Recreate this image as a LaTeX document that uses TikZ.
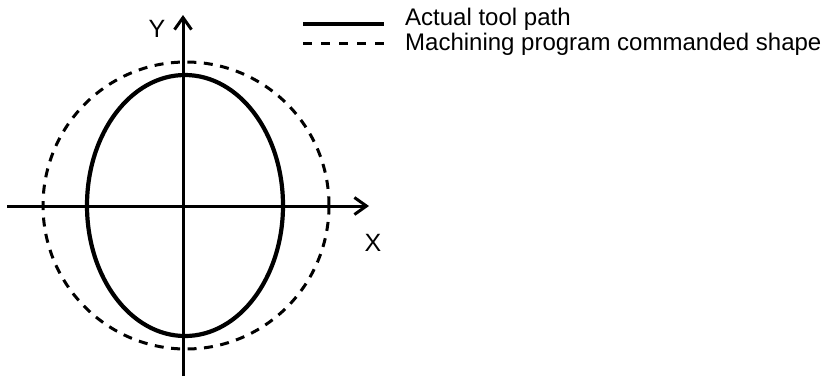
\documentclass[tikz,border=0pt]{standalone}
\usepackage{fontspec}
\setmainfont{Liberation Sans}
\usetikzlibrary{arrows.meta}
\begin{document}
\begin{tikzpicture}[x=1pt,y=-1pt,
  axisline/.style={line width=3pt,-{Straight Barb[length=12pt,width=17pt]}},
  toolpath/.style={line width=4.2pt},
  cmdshape/.style={line width=3pt,dash pattern=on 9pt off 7.5pt},
  axislabel/.style={font=\fontsize{25}{29}\selectfont,inner sep=0pt},
  legendtext/.style={font=\fontsize{24}{28}\selectfont,inner sep=0pt,anchor=base west}]
\useasboundingbox (0,0) rectangle (821,376);
% axes
\coordinate (xs) at (7,206);
\coordinate (xe) at (369,206);
\coordinate (ys) at (183,376);
\coordinate (ye) at (183,15);
\draw[axisline] (xs) -- (xe);
\draw[axisline] (ys) -- (ye);
% shapes
\coordinate (cc) at (186,205.5);
\coordinate (ec) at (185,205.5);
\draw[cmdshape] (cc) ellipse [x radius=143, y radius=143.5];
\draw[toolpath] (ec) ellipse [x radius=98, y radius=130.5];
% axis labels
\node[axislabel] (ylab) at (157,29) {Y};
\node[axislabel] (xlab) at (373,243) {X};
% legend
\coordinate (l1s) at (303,24);
\coordinate (l1e) at (384,24);
\coordinate (l2s) at (303,43);
\coordinate (l2e) at (384,43);
\draw[line width=4.2pt] (l1s) -- (l1e);
\draw[line width=3pt,dash pattern=on 9pt off 9pt] (l2s) -- (l2e);
\node[legendtext] (t1) at (405,25) {Actual tool path};
\node[legendtext] (t2) at (405,50) {Machining program commanded shape};
\end{tikzpicture}
\end{document}
